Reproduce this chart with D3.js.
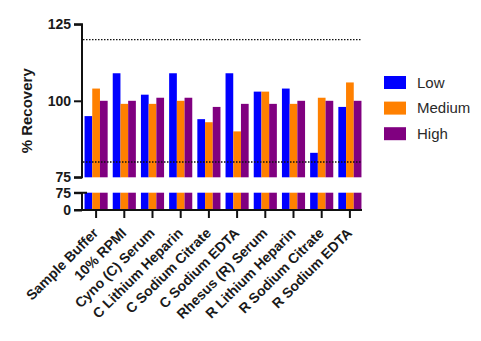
<!DOCTYPE html>
<html><head><meta charset="utf-8">
<script src="https://cdn.jsdelivr.net/npm/d3@7"></script>
<style>
body{margin:0;background:#fff;}
svg{display:block;font-family:"Liberation Sans",Arial,Helvetica,sans-serif;}
</style></head>
<body><svg id="chart" width="481" height="341"></svg>
<script>
const categories = ["Sample Buffer","10% RPMI","Cyno (C) Serum","C Lithium Heparin","C Sodium Citrate","C Sodium EDTA","Rhesus (R) Serum","R Lithium Heparin","R Sodium Citrate","R Sodium EDTA"];
const seriesNames = ["Low","Medium","High"];
const lowValues    = [95,109,102,109,94,109,103,104,83,98];
const mediumValues = [104,99,99,100,93,90,103,99,101,106];
const highValues   = [100,100,101,101,98,99,99,100,100,100];
const topTicks = [75,100,125];
const bottomTicks = [0,75];
const refLines = [80,120];
const colors = ["#0000ff","#ff8000","#800080"];

const seriesValues = [lowValues, mediumValues, highValues];
const data = categories.map((c,i)=>({cat:c, vals: seriesNames.map((s,j)=>({s, v: seriesValues[j][i], j}))}));

const svg = d3.select("#chart");
const axisX = 82;
const x = d3.scaleBand().domain(categories).range([axisX, 364]).paddingInner(0.18).paddingOuter(0.09);
const xs = d3.scaleBand().domain(seriesNames).range([0, x.bandwidth()]);
const yTop = d3.scaleLinear().domain([75,125]).range([177.3, 24.3]);
const yBot = d3.scaleLinear().domain([0,75]).range([210, 192.7]);
const color = d3.scaleOrdinal().domain(seriesNames).range(colors);

// bars
const g = svg.append("g");
const groups = g.selectAll("g.grp").data(data).join("g").attr("transform", d=>`translate(${x(d.cat)},0)`);
groups.selectAll("rect.top").data(d=>d.vals).join("rect")
  .attr("x", d=>xs(d.s)).attr("width", xs.bandwidth())
  .attr("y", d=>yTop(Math.min(d.v,125))).attr("height", d=>yTop(75)-yTop(Math.min(d.v,125)))
  .attr("fill", d=>color(d.s));
groups.selectAll("rect.bot").data(d=>d.vals).join("rect")
  .attr("x", d=>xs(d.s)).attr("width", xs.bandwidth())
  .attr("y", d=>yBot(Math.min(d.v,75))).attr("height", d=>yBot(0)-yBot(Math.min(d.v,75)))
  .attr("fill", d=>color(d.s));

// reference dotted lines
svg.selectAll("line.ref").data(refLines).join("line")
  .attr("x1", axisX+1).attr("x2", 361)
  .attr("y1", d=>yTop(d)).attr("y2", d=>yTop(d))
  .attr("stroke", "#111").attr("stroke-width", 1.4).attr("stroke-dasharray", "1.5,1.5");

const tickFont = g => g.selectAll("text").attr("font-size", 14).attr("font-weight", "bold").attr("fill", "#1a1a1a")
  .attr("font-family", '"Liberation Sans",Arial,Helvetica,sans-serif');

// top y axis
const ayTop = svg.append("g").attr("transform", `translate(${axisX},0)`)
  .call(d3.axisLeft(yTop).tickValues(topTicks).tickSize(8).tickPadding(3).tickFormat(d3.format("d")));
ayTop.call(tickFont);
ayTop.select(".domain").attr("stroke", "#111").attr("stroke-width", 2).attr("d", `M-8,${yTop(125)}H0V${yTop(75)}H-8`);
ayTop.selectAll(".tick line").attr("stroke", "#111").attr("stroke-width", 2);

// bottom y axis
const ayBot = svg.append("g").attr("transform", `translate(${axisX},0)`)
  .call(d3.axisLeft(yBot).tickValues(bottomTicks).tickSize(8).tickPadding(3).tickFormat(d3.format("d")));
ayBot.call(tickFont);
ayBot.select(".domain").attr("stroke", "#111").attr("stroke-width", 2).attr("d", `M-8,${yBot(75)}H5M0,${yBot(75)}V${yBot(0)}H-8`);
ayBot.selectAll(".tick line").attr("stroke", "#111").attr("stroke-width", 2);

// x axis
const ax = svg.append("g").attr("transform", `translate(0,${yBot(0)})`)
  .call(d3.axisBottom(x).tickSize(8).tickFormat(""));
ax.select(".domain").attr("stroke", "#111").attr("stroke-width", 2).attr("d", `M${axisX-8},0H362`);
ax.selectAll(".tick line").attr("stroke", "#111").attr("stroke-width", 2);
ax.selectAll(".tick").append("text")
  .attr("text-anchor", "end")
  .attr("transform", "translate(3,24) rotate(-45)")
  .attr("font-size", 14).attr("font-weight", "bold").attr("fill", "#1a1a1a")
  .attr("font-family", '"Liberation Sans",Arial,Helvetica,sans-serif')
  .text(d=>d);

// y title
svg.append("text")
  .attr("transform", `translate(32,${(yTop(125)+yTop(75))/2 + 10}) rotate(-90)`)
  .attr("text-anchor", "middle")
  .attr("font-size", 15).attr("font-weight", "bold").attr("fill", "#1a1a1a")
  .text("% Recovery");

// legend
const leg = svg.append("g").attr("transform", "translate(384,76)");
const li = leg.selectAll("g").data(seriesNames).join("g").attr("transform", (d,i)=>`translate(0,${i*25.6})`);
li.append("rect").attr("width", 22).attr("height", 13).attr("fill", d=>color(d));
li.append("text").attr("x", 33).attr("y", 6.5).attr("dy", "0.35em")
  .attr("font-size", 15).attr("fill", "#2a2a2a").text(d=>d);
</script>
</body></html>
